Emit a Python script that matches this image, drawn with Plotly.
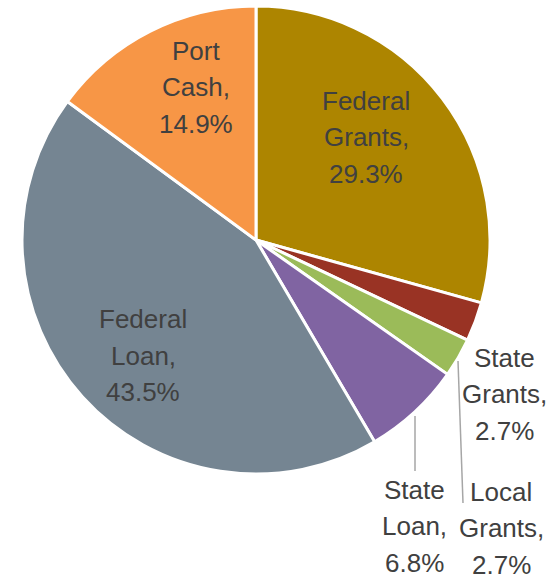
import plotly.graph_objects as go

# Funding sources, clockwise from 12 o'clock
sources = ["Federal Grants", "State Grants", "Local Grants", "State Loan", "Federal Loan", "Port Cash"]
shares = [29.3, 2.7, 2.7, 6.8, 43.5, 14.9]
colors = ["#AD8500", "#993324", "#9BBB59", "#8064A2", "#758592", "#F79646"]

W, H = 557, 585
CX, CY, R = 256, 240, 234          # pie centre / radius in pixels
FONT = "Liberation Sans Narrow, Arial Narrow, Liberation Sans, Arial, sans-serif"
TEXT_COLOR = "#404040"
FONT_SIZE = 26
LINE_GAP = 36.5

# label block centres (pixels, top-left origin)
label_pos = {
    "Federal Grants": (366, 137),
    "State Grants": (504, 394),
    "Local Grants": (501, 528),
    "State Loan": (414, 526),
    "Federal Loan": (143, 356),
    "Port Cash": (196, 87),
}
# leader lines for the labels placed outside the pie
leaders = {
    "State Loan": [(415, 416), (415, 471)],
    "Local Grants": [(458, 361), (463, 503)],
}


def px(x):
    return x / W


def py(y):
    return 1 - y / H


fig = go.Figure(go.Pie(
    labels=sources,
    values=shares,
    sort=False,
    direction="clockwise",
    rotation=0,
    marker=dict(colors=colors, line=dict(color="white", width=3)),
    textinfo="none",
    hoverinfo="label+percent",
    showlegend=False,
    domain=dict(x=[px(CX - R), px(CX + R)], y=[py(CY + R), py(CY - R)]),
))

annotations = []
for name, val in zip(sources, shares):
    words = name.split(" ")
    lines = [words[0], " ".join(words[1:]) + ",", f"{val}%"]
    cx, cy = label_pos[name]
    for i, line in enumerate(lines):
        y = cy + (i - 1) * LINE_GAP
        annotations.append(dict(
            x=px(cx), y=py(y), xref="paper", yref="paper",
            text=line, showarrow=False,
            xanchor="center", yanchor="middle",
            font=dict(family=FONT, size=FONT_SIZE, color=TEXT_COLOR),
        ))

shapes = []
for name, pts in leaders.items():
    (x0, y0), (x1, y1) = pts
    shapes.append(dict(
        type="line", xref="paper", yref="paper",
        x0=px(x0), y0=py(y0), x1=px(x1), y1=py(y1),
        line=dict(color="#A6A6A6", width=1.5),
    ))

fig.update_layout(
    width=W, height=H,
    margin=dict(l=0, r=0, t=0, b=0),
    paper_bgcolor="white", plot_bgcolor="white",
    annotations=annotations,
    shapes=shapes,
)

fig.write_html("out.html")
